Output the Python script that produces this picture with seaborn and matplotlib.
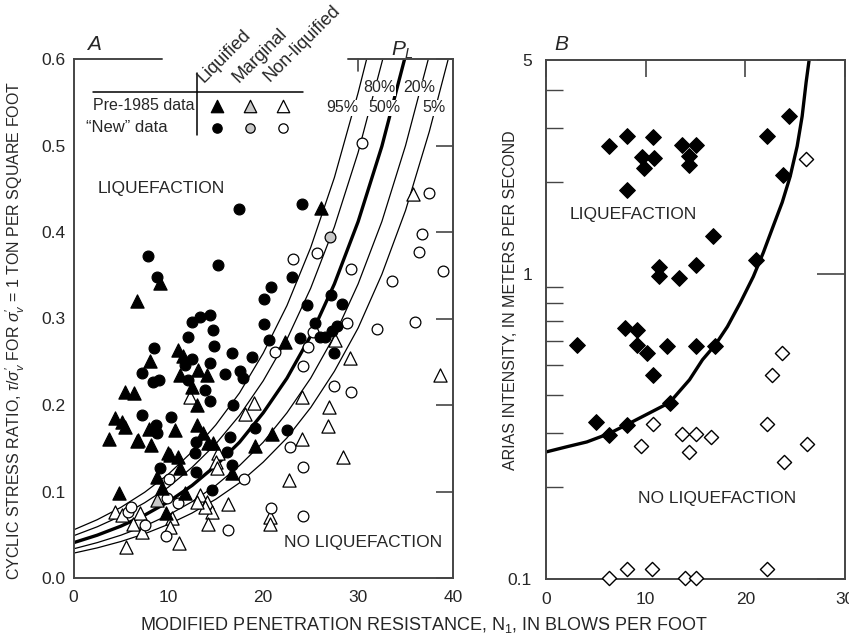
import numpy as np
import pandas as pd
import matplotlib
matplotlib.use("Agg")
import matplotlib.pyplot as plt
import seaborn as sns
from matplotlib import font_manager as fm
from matplotlib.lines import Line2D
from matplotlib.ticker import FixedLocator, FixedFormatter, NullFormatter

# ---------------- Panel A data (N1, CSR) ----------------
pre_liq_n = [3.7, 4.4, 5.1, 5.4, 5.4, 6.4, 6.7, 6.7, 8.1, 8.0, 8.2, 9.1, 4.8, 10.7, 10.0, 11.0,
             11.2, 8.8, 9.3, 11.8, 9.7, 11.0, 11.5, 11.2, 13.1, 14.1, 12.5, 13.0, 13.0, 13.6,
             14.2, 14.7, 16.7, 19.1, 20.9, 22.3, 26.1, 6.8, 10.2]
pre_liq_csr = [0.161, 0.185, 0.180, 0.175, 0.215, 0.214, 0.320, 0.158, 0.251, 0.172, 0.154, 0.341,
               0.098, 0.171, 0.144, 0.140, 0.127, 0.117, 0.104, 0.098, 0.075, 0.264, 0.257, 0.235,
               0.241, 0.235, 0.221, 0.200, 0.177, 0.168, 0.156, 0.156, 0.121, 0.153, 0.167, 0.273,
               0.428, 0.160, 0.142]

pre_marg_n = [8.8]
pre_marg_csr = [0.090]

pre_non_n = [35.8, 38.6, 27.6, 29.1, 24.1, 26.9, 26.8, 19.0, 18.1, 12.3, 24.1, 28.4, 22.7, 20.7,
             20.7, 15.2, 15.0, 15.1, 13.3, 14.1, 14.6, 14.2, 16.3, 13.9, 4.4, 5.1, 7.0, 6.3, 7.2,
             10.4, 10.2, 5.5, 11.1, 13.0]
pre_non_csr = [0.444, 0.235, 0.275, 0.254, 0.209, 0.198, 0.176, 0.202, 0.190, 0.209, 0.161, 0.140,
               0.113, 0.070, 0.062, 0.144, 0.134, 0.127, 0.096, 0.088, 0.076, 0.063, 0.086, 0.082,
               0.076, 0.073, 0.075, 0.063, 0.053, 0.069, 0.059, 0.036, 0.040, 0.088]

new_liq_n = [7.9, 8.8, 15.2, 17.4, 24.1, 23.0, 20.8, 20.1, 24.6, 20.1, 25.5, 20.6, 23.9, 26.0,
             13.3, 14.4, 14.7, 14.8, 16.7, 18.8, 12.5, 12.1, 12.5, 11.8, 12.1, 13.9, 14.4, 16.8,
             16.0, 17.6, 17.9, 14.4, 7.2, 8.5, 8.4, 9.0, 7.2, 8.7, 8.8, 10.3, 12.9, 12.8, 12.9,
             9.1, 14.6, 16.2, 16.7, 16.5, 19.1, 22.5, 27.1, 28.3, 27.8, 26.5, 27.2, 27.5]
new_liq_csr = [0.372, 0.348, 0.362, 0.427, 0.432, 0.348, 0.336, 0.322, 0.316, 0.294, 0.295, 0.275,
               0.277, 0.279, 0.302, 0.304, 0.287, 0.268, 0.260, 0.256, 0.296, 0.279, 0.253, 0.246,
               0.229, 0.217, 0.205, 0.200, 0.236, 0.239, 0.231, 0.249, 0.237, 0.266, 0.227, 0.229,
               0.188, 0.177, 0.168, 0.186, 0.157, 0.144, 0.123, 0.127, 0.102, 0.146, 0.131, 0.163,
               0.173, 0.171, 0.327, 0.317, 0.291, 0.279, 0.285, 0.260]

new_marg_n = [27.0]
new_marg_csr = [0.394]

new_non_n = [30.4, 25.7, 23.1, 29.3, 33.6, 32.0, 36.0, 36.7, 36.4, 38.9, 37.5, 25.2, 24.7, 21.2,
             28.8, 24.2, 27.5, 29.3, 22.8, 24.2, 18.0, 20.8, 24.2, 10.1, 9.9, 11.0, 5.7, 6.1,
             7.5, 9.7, 16.3]
new_non_csr = [0.503, 0.376, 0.369, 0.357, 0.343, 0.288, 0.296, 0.398, 0.377, 0.355, 0.445, 0.284,
               0.267, 0.261, 0.295, 0.245, 0.222, 0.215, 0.152, 0.128, 0.115, 0.081, 0.072, 0.115,
               0.093, 0.087, 0.076, 0.082, 0.061, 0.048, 0.056]

# Probability-of-liquefaction curves
curve_n = [0, 2.5, 5, 7.5, 10, 12.5, 15, 17.5, 20, 22.5, 25, 27.5, 30]
pl95_n = curve_n + [30.9]
pl95 = [0.0556, 0.0674, 0.0817, 0.0991, 0.120, 0.146, 0.177, 0.214, 0.260, 0.315, 0.382, 0.463, 0.561, 0.600]
pl80_n = curve_n + [32.6]
pl80 = [0.0488, 0.0592, 0.0717, 0.0870, 0.105, 0.128, 0.155, 0.188, 0.228, 0.276, 0.335, 0.406, 0.492, 0.600]
pl50_n = curve_n + [32.5, 34.9]
pl50 = [0.0408, 0.0495, 0.0600, 0.0727, 0.0881, 0.107, 0.130, 0.157, 0.191, 0.231, 0.280, 0.340, 0.412, 0.499, 0.600]
pl20_n = curve_n + [32.5, 35, 37.4]
pl20 = [0.0337, 0.0409, 0.0495, 0.0600, 0.0728, 0.0882, 0.107, 0.130, 0.157, 0.191, 0.231, 0.280, 0.340, 0.412, 0.500, 0.600]
pl05_n = curve_n + [32.5, 35, 37.5, 39.5]
pl05 = [0.0287, 0.0348, 0.0422, 0.0511, 0.0620, 0.0751, 0.0911, 0.110, 0.134, 0.162, 0.197, 0.239, 0.289, 0.351, 0.425, 0.516, 0.600]

# ---------------- Panel B data (N1, Arias intensity) ----------------
b_liq_n = [3.1, 6.3, 8.1, 10.7, 9.6, 10.8, 9.8, 8.1, 13.6, 15.0, 14.3, 14.3, 22.2, 24.4, 23.8,
           16.8, 21.1, 11.3, 11.3, 13.3, 15.1, 7.9, 9.1, 9.1, 10.1, 12.1, 15.0, 17.0, 10.7,
           5.0, 6.3, 8.1, 12.4]
b_liq_ia = [0.585, 2.61, 2.81, 2.79, 2.40, 2.38, 2.21, 1.88, 2.63, 2.63, 2.42, 2.26, 2.81, 3.27, 2.10,
            1.33, 1.11, 1.05, 0.985, 0.97, 1.07, 0.665, 0.655, 0.585, 0.551, 0.58, 0.58, 0.58, 0.467,
            0.327, 0.296, 0.320, 0.378]
b_non_n = [26.1, 23.7, 22.7, 10.7, 9.5, 13.6, 15.1, 16.6, 14.3, 22.2, 23.9, 26.2,
           6.3, 8.1, 10.6, 13.9, 15.1, 22.2]
b_non_ia = [2.37, 0.551, 0.467, 0.322, 0.273, 0.299, 0.299, 0.292, 0.261, 0.322, 0.242, 0.277,
            0.101, 0.108, 0.108, 0.101, 0.101, 0.108]
b_curve_n = [0.1, 2.1, 4.1, 6.3, 8.1, 12.4, 14.4, 15.7, 17.0, 18.2, 19.5, 20.8, 21.8, 22.8, 23.7,
             24.5, 25.2, 25.7, 26.1, 26.4]
b_curve_ia = [0.261, 0.271, 0.281, 0.299, 0.320, 0.378, 0.449, 0.522, 0.585, 0.670, 0.803, 0.977,
              1.17, 1.43, 1.71, 2.08, 2.61, 3.27, 4.23, 5.0]

a_yticks = [0.0, 0.1, 0.2, 0.3, 0.4, 0.5, 0.6]
a_xticks = [0, 10, 20, 30, 40]
b_xticks = [0, 10, 20, 30]
b_yticks = [0.1, 1, 5]

# ---------------- style ----------------
sns.set_style("white")
names = {f.name for f in fm.fontManager.ttflist}
NARROW = "Liberation Sans Narrow" if "Liberation Sans Narrow" in names else "Liberation Sans"
plt.rcParams['font.family'] = ['Liberation Sans', 'DejaVu Sans']
plt.rcParams['mathtext.fontset'] = 'custom'
plt.rcParams['mathtext.rm'] = 'Liberation Sans'
plt.rcParams['mathtext.it'] = 'Liberation Sans:italic'
plt.rcParams['mathtext.bf'] = 'Liberation Sans:bold'

TICK_FS = 13 if NARROW != "Liberation Sans" else 12.5
SMALL_FS = 13 if NARROW != "Liberation Sans" else 11.5

W, H = 849, 640
SP = '#454545'
fig = plt.figure(figsize=(W / 100, H / 100), dpi=100)
axA = fig.add_axes([73.5 / W, 1 - 578 / H, 379.5 / W, 519 / H])
axB = fig.add_axes([546 / W, 1 - 579 / H, 299 / W, 519 / H])


def px(x, y):
    return x / W, 1 - y / H


# ---------------- Panel A ----------------
for xs, ys, lw in [(pl95_n, pl95, 0.9), (pl80_n, pl80, 0.9), (pl50_n, pl50, 2.4),
                   (pl20_n, pl20, 0.9), (pl05_n, pl05, 0.9)]:
    sns.lineplot(x=xs, y=ys, ax=axA, color='black', lw=lw, sort=False, estimator=None, zorder=2)

tri_s, cir_s = 90, 60
mk = dict(linewidth=0.9, edgecolor='black', zorder=3, legend=False)
sns.scatterplot(x=pre_non_n, y=pre_non_csr, marker='^', s=tri_s, color='white', ax=axA, **mk)
sns.scatterplot(x=new_non_n, y=new_non_csr, marker='o', s=cir_s, color='white', ax=axA, **mk)
sns.scatterplot(x=pre_marg_n, y=pre_marg_csr, marker='^', s=tri_s, color='#c8c8c8', ax=axA, **mk)
sns.scatterplot(x=new_marg_n, y=new_marg_csr, marker='o', s=cir_s, color='#c8c8c8', ax=axA, **mk)
sns.scatterplot(x=pre_liq_n, y=pre_liq_csr, marker='^', s=tri_s, color='black', ax=axA, **mk)
sns.scatterplot(x=new_liq_n, y=new_liq_csr, marker='o', s=cir_s, color='black', ax=axA, **mk)

axA.set_xlim(0, 40)
axA.set_ylim(0, 0.6)
axA.set_xticks(a_xticks)
axA.set_yticks(a_yticks)
axA.set_yticklabels([f"{v:.1f}" for v in a_yticks])
axA.set_xticklabels([str(v) for v in a_xticks])
axA.set_xlabel('')
axA.set_ylabel('')
axA.tick_params(direction='in', length=12, width=1.2, color=SP, right=True, top=False,
                labelsize=TICK_FS, pad=6)
axA.tick_params(axis='x', pad=9)
for lab in axA.get_xticklabels() + axA.get_yticklabels():
    lab.set_family(NARROW)
for side in ['left', 'right', 'bottom']:
    axA.spines[side].set_color(SP)
    axA.spines[side].set_linewidth(1.4)
axA.spines['top'].set_visible(False)
# partial top frame and top tick at 30
axA.plot([0, 0.233], [1, 1], transform=axA.transAxes, color=SP, lw=1.4, clip_on=False)
axA.plot([0.723, 1], [1, 1], transform=axA.transAxes, color=SP, lw=1.4, clip_on=False)
axA.plot([30, 30], [0.6, 0.586], color=SP, lw=1.2, clip_on=False)

axA.text(*px(94, 45), 'A', transform=fig.transFigure, fontsize=15, style='italic',
         ha='center', va='center')
axA.text(*px(161, 188), 'LIQUEFACTION', transform=fig.transFigure, fontsize=12.5,
         ha='center', va='center')
axA.text(*px(363, 542), 'NO LIQUEFACTION', transform=fig.transFigure, fontsize=12.5,
         ha='center', va='center')
axA.text(*px(403, 50), r'$P_L$', transform=fig.transFigure, fontsize=15, ha='center', va='center')
for t, x, y in [('80%', 379, 88), ('20%', 419, 88), ('95%', 342, 108), ('50%', 384, 108), ('5%', 434, 108)]:
    axA.text(*px(x, y), t, transform=fig.transFigure, fontsize=SMALL_FS, family=NARROW,
             ha='center', va='center', zorder=5,
             bbox=dict(facecolor='white', edgecolor='none', pad=0.5))

# legend block
fig.add_artist(Line2D([93 / W, 303 / W], [1 - 92 / H, 1 - 92 / H], color='black', lw=1.1))
fig.add_artist(Line2D([197 / W, 197 / W], [1 - 73 / H, 1 - 135 / H], color='black', lw=1.1))
for t, x, y in [('Liquified', 206, 86), ('Marginal', 241, 86), ('Non-liquified', 273, 85)]:
    fig.text(*px(x, y), t, fontsize=13, rotation=45, rotation_mode='anchor', ha='left', va='bottom')
fig.text(*px(93, 106), 'Pre-1985 data', fontsize=SMALL_FS, family=NARROW, ha='left', va='center')
fig.text(*px(86, 128), '\u201cNew\u201d data', fontsize=SMALL_FS + 0.5, family=NARROW, ha='left', va='center')
for x, fc in [(217, 'black'), (250, '#c8c8c8'), (283, 'white')]:
    axA.scatter([x / W], [1 - 106 / H], marker='^', s=80, facecolor=fc, edgecolor='black',
                linewidth=0.9, transform=fig.transFigure, clip_on=False, zorder=6)
    axA.scatter([x / W], [1 - 128 / H], marker='o', s=45, facecolor=fc, edgecolor='black',
                linewidth=0.9, transform=fig.transFigure, clip_on=False, zorder=6)

# ---------------- Panel B ----------------
sns.lineplot(x=b_curve_n, y=b_curve_ia, ax=axB, color='black', lw=2.4, sort=False,
             estimator=None, zorder=2)
sns.scatterplot(x=b_liq_n, y=b_liq_ia, marker='D', s=64, color='black', edgecolor='black',
                linewidth=0.8, ax=axB, zorder=3, legend=False)
sns.scatterplot(x=b_non_n, y=b_non_ia, marker='D', s=52, color='white', edgecolor='black',
                linewidth=1.0, ax=axB, zorder=4, legend=False)
for coll in axB.collections:
    coll.set_clip_on(False)

axB.set_yscale('log')
axB.set_xlim(0, 30)
axB.set_ylim(0.1, 5)
axB.xaxis.set_major_locator(FixedLocator(b_xticks))
axB.xaxis.set_major_formatter(FixedFormatter([str(v) for v in b_xticks]))
axB.yaxis.set_major_locator(FixedLocator(b_yticks))
axB.yaxis.set_major_formatter(FixedFormatter(['0.1', '1', '5']))
axB.yaxis.set_minor_locator(FixedLocator([0.2, 0.3, 0.4, 0.5, 0.6, 0.7, 0.8, 0.9, 2, 3, 4]))
axB.yaxis.set_minor_formatter(NullFormatter())
axB.xaxis.set_minor_locator(FixedLocator([]))
axB.set_xlabel('')
axB.set_ylabel('')
axB.tick_params(axis='x', direction='in', length=12, width=1.2, color=SP, top=True,
                labelsize=TICK_FS, pad=9)
axB.tick_params(axis='y', which='major', direction='in', length=20, width=1.2, color=SP,
                right=True, labelsize=TICK_FS, pad=10)
axB.tick_params(axis='y', which='minor', direction='in', length=12, width=1.0, color=SP,
                left=True, right=False)
for lab in axB.get_xticklabels() + axB.get_yticklabels():
    lab.set_family(NARROW)
for side in ['left', 'right', 'bottom', 'top']:
    axB.spines[side].set_color(SP)
    axB.spines[side].set_linewidth(1.4)

axB.text(*px(561, 45), 'B', transform=fig.transFigure, fontsize=15, style='italic',
         ha='center', va='center')
axB.text(*px(633, 215), 'LIQUEFACTION', transform=fig.transFigure, fontsize=12.5,
         ha='center', va='center')
axB.text(*px(717, 498), 'NO LIQUEFACTION', transform=fig.transFigure, fontsize=12.5,
         ha='center', va='center')

# ---------------- axis titles ----------------
fig.text(*px(424, 625), r'MODIFIED PENETRATION RESISTANCE, N$_1$, IN BLOWS PER FOOT',
         fontsize=13, ha='center', va='center')
fig.text(*px(15, 330), r"CYCLIC STRESS RATIO, $\tau/\sigma_v'$ FOR $\sigma_v'$ = 1 TON PER SQUARE FOOT",
         fontsize=11.5, rotation=90, ha='center', va='center')
fig.text(*px(511, 300), 'ARIAS INTENSITY, IN METERS PER SECOND',
         fontsize=11.5, rotation=90, ha='center', va='center')

fig.savefig('out.png', dpi=100)
